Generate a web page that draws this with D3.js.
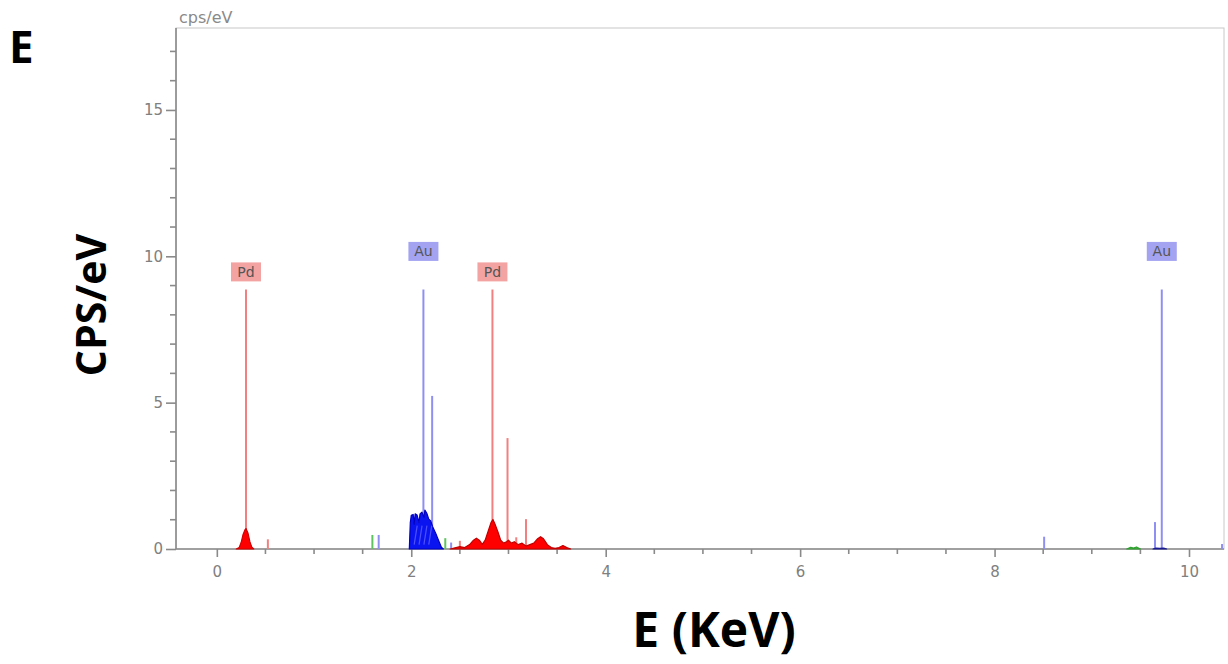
<!DOCTYPE html>
<html><head><meta charset="utf-8">
<script src="https://cdn.jsdelivr.net/npm/d3@7"></script>
<style>body{margin:0;background:#fff}svg{display:block}</style>
</head><body>
<svg id="c" width="1228" height="664"></svg>
<script>
// ---- data ----
const xMajorTicks = [0, 2, 4, 6, 8, 10];
const yMajorTicks = [0, 5, 10, 15];
// filled spectra [energy keV, cps/eV]
const pdLowSpectrum = [[0.20,0],[0.23,0.05],[0.25,0.22],[0.27,0.5],[0.29,0.66],[0.30,0.7],[0.32,0.55],[0.34,0.25],[0.36,0.06],[0.38,0]];
const auMSpectrum = [[1.98,0],[1.99,0.9],[2.00,1.15],[2.02,1.18],[2.03,0.85],[2.04,1.2],[2.06,1.16],[2.08,0.9],[2.09,1.2],[2.11,1.26],[2.13,1.08],[2.14,1.33],[2.16,1.22],[2.18,1.02],[2.20,0.96],[2.22,0.76],[2.25,0.55],[2.28,0.3],[2.31,0.06],[2.33,0]];
const pdLSpectrum = [[2.40,0],[2.45,0.04],[2.50,0.08],[2.55,0.05],[2.60,0.15],[2.64,0.3],[2.67,0.37],[2.70,0.3],[2.73,0.16],[2.76,0.3],[2.79,0.6],[2.82,0.9],[2.84,1.01],[2.86,0.86],[2.89,0.6],[2.92,0.3],[2.95,0.2],[2.98,0.25],[3.00,0.3],[3.03,0.2],[3.06,0.25],[3.10,0.15],[3.14,0.2],[3.18,0.1],[3.22,0.15],[3.26,0.2],[3.30,0.35],[3.33,0.42],[3.36,0.35],[3.40,0.15],[3.44,0.05],[3.48,0.02],[3.52,0.05],[3.56,0.12],[3.60,0.05],[3.64,0]];
const greenSpectrum = [[9.36,0],[9.40,0.06],[9.43,0.03],[9.46,0.07],[9.50,0]];
const auLBaseline = [[9.63,0],[9.66,0.03],[9.70,0.02],[9.74,0.03],[9.77,0]];
// element marker lines [energy, height, element]
const markerEnergy = [0.30, 0.525, 2.125, 2.215, 2.835, 2.99, 3.08, 3.18, 2.50, 8.51, 9.65, 9.72, 10.34, 1.665, 2.41];
const markerHeight = [8.87, 0.33, 8.87, 5.23, 8.87, 3.79, 0.40, 1.02, 0.28, 0.42, 0.92, 8.87, 0.17, 0.48, 0.22];
const markerElement = ["Pd","Pd","Au","Au","Pd","Pd","Pd","Pd","Pd","Au","Au","Au","Au","Au","Au"];
// small green lines [energy, height]
const greenEnergy = [1.60, 2.35, 2.0];
const greenHeight = [0.48, 0.37, 0.08];
// labels
const labelText = ["Pd","Au","Pd","Au"];
const labelEnergy = [0.30, 2.125, 2.835, 9.72];
const labelValue = [9.45, 10.15, 9.45, 10.15];

// ---- chart ----
const svg = d3.select("#c");
const x = d3.scaleLinear().domain([-0.42, 10.36]).range([176, 1224]);
const y = d3.scaleLinear().domain([0, 17.8]).range([549, 28]);
const axisCol = "#8a8a8a", textCol = "#808080";
const tickFont = "DejaVu Sans, Verdana, sans-serif";
const colors = {Pd: {line:"#f28080", fill:"#f4a3a3"}, Au: {line:"#8f8ff2", fill:"#a3a3f2"}};

// frame
svg.append("rect").attr("x",176).attr("y",28).attr("width",1224-176).attr("height",549-28)
  .attr("fill","none").attr("stroke","#c8c8c8").attr("stroke-width",1);

// axes
const yAxis = d3.axisLeft(y).tickValues(yMajorTicks).tickSize(10).tickPadding(3);
const gy = svg.append("g").attr("transform","translate(176,0)").call(yAxis);
const yMinor = d3.range(0, 18, 1).filter(v => v % 5 !== 0);
gy.selectAll(".minor").data(yMinor).enter().append("line").attr("class","minor")
  .attr("x1",-6).attr("x2",0).attr("y1",d=>y(d)).attr("y2",d=>y(d));
const xAxis = d3.axisBottom(x).tickValues(xMajorTicks).tickSize(8).tickPadding(9);
const gx = svg.append("g").attr("transform","translate(0,549)").call(xAxis);
const xMinor = d3.range(0.5, 10.4, 0.5).filter(v => v % 2 !== 0);
gx.selectAll(".minor").data(xMinor).enter().append("line").attr("class","minor")
  .attr("y1",0).attr("y2",5).attr("x1",d=>x(d)).attr("x2",d=>x(d));
[gx, gy].forEach(g => {
  g.selectAll(".domain").attr("stroke",axisCol).attr("stroke-width",1.6);
  g.selectAll("line").attr("stroke",axisCol).attr("stroke-width",1.6);
  g.selectAll("text").attr("fill",textCol).attr("font-family",tickFont).attr("font-size",15);
});
gy.select(".domain").attr("d","M0,28V549");
gx.select(".domain").attr("d","M176,0H1224");

// marker lines
svg.append("g").selectAll("line").data(markerEnergy).enter().append("line")
  .attr("x1",d=>x(d)).attr("x2",d=>x(d)).attr("y1",y(0)).attr("y2",(d,i)=>y(markerHeight[i]))
  .attr("stroke",(d,i)=>colors[markerElement[i]].line).attr("stroke-width",2);
svg.append("g").selectAll("line").data(greenEnergy).enter().append("line")
  .attr("x1",d=>x(d)).attr("x2",d=>x(d)).attr("y1",y(0)).attr("y2",(d,i)=>y(greenHeight[i]))
  .attr("stroke","#5ec45e").attr("stroke-width",2);

// spectra
const area = d3.area().x(d=>x(d[0])).y0(y(0)).y1(d=>y(d[1])).curve(d3.curveLinear);
function spec(data, fill, stroke){
  svg.append("path").datum(data).attr("d",area).attr("fill",fill).attr("stroke",stroke).attr("stroke-width",1.2).attr("stroke-linejoin","round");
}
spec(pdLowSpectrum, "#ff0000", "#d00000");
spec(auMSpectrum, "#0a14f0", "#0000c0");
spec(pdLSpectrum, "#ff0000", "#c00000");
spec(greenSpectrum, "#40b040", "#30a030");
spec(auLBaseline, "#1a1a90", "#1a1a90");
// lighter streaks inside the overlaid Au spectra
const streakE = [2.03, 2.08, 2.13, 2.18];
svg.append("g").selectAll("line").data(streakE).enter().append("line")
  .attr("x1",d=>x(d)).attr("x2",d=>x(d)+3).attr("y1",y(0.15)).attr("y2",y(0.8))
  .attr("stroke","#6a6aff").attr("stroke-width",1.2).attr("opacity",0.7);

// labels
const lg = svg.append("g").selectAll("g").data(labelText).enter().append("g")
  .attr("transform",(d,i)=>`translate(${x(labelEnergy[i])},${y(labelValue[i])})`);
lg.append("rect").attr("x",-15).attr("y",-10).attr("width",30).attr("height",19)
  .attr("fill",d=>colors[d].fill);
lg.append("text").text(d=>d).attr("text-anchor","middle").attr("dy","0.35em").attr("y",-0.5)
  .attr("font-family",tickFont).attr("font-size",14).attr("fill","#555");

// unit text
svg.append("text").attr("x",179).attr("y",23).text("cps/eV")
  .attr("font-family",tickFont).attr("font-size",16).attr("fill","#8a8a8a");

// panel letter & axis titles
svg.append("text").attr("x",9).attr("y",63).text("E")
  .attr("font-family","Open Sans, sans-serif").attr("font-weight",700).attr("font-size",44).attr("fill","#000");
svg.append("text").attr("transform","translate(106,305) rotate(-90)").attr("text-anchor","middle").text("CPS/eV")
  .attr("font-family","Open Sans, sans-serif").attr("font-weight",700).attr("font-size",41).attr("fill","#000");
svg.append("text").attr("x",714).attr("y",647).attr("text-anchor","middle").text("E (KeV)")
  .attr("font-family","Open Sans, sans-serif").attr("font-weight",700).attr("font-size",48).attr("fill","#000");
</script>
</body></html>
